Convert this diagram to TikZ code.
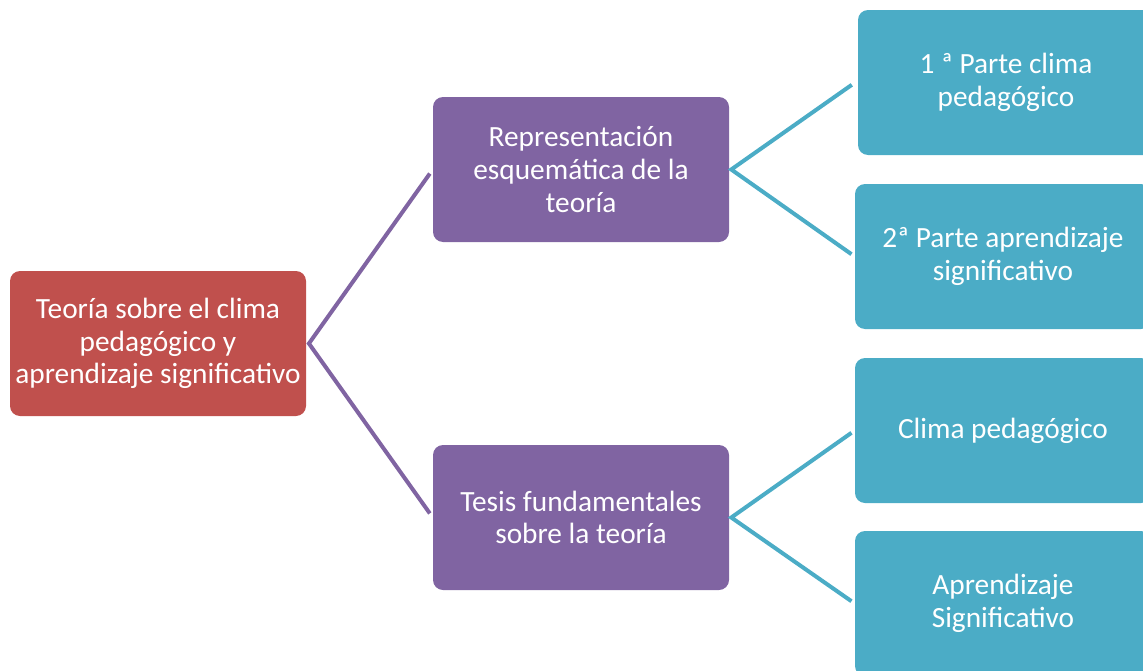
\documentclass[tikz,border=0pt]{standalone}
\usepackage{fontspec}
\setmainfont{Carlito}
\definecolor{cred}{HTML}{C0504D}
\definecolor{cpurple}{HTML}{8064A2}
\definecolor{cteal}{HTML}{4BACC6}
\begin{document}
\begin{tikzpicture}[x=0.75pt,y=-0.75pt,
  box/.style={rounded corners=7.5pt, minimum width=222pt, minimum height=108.75pt,
    inner sep=0pt, align=center, text=white,
    font=\fontsize{22}{24.5}\selectfont},
  redbox/.style={box, fill=cred},
  purplebox/.style={box, fill=cpurple},
  tealbox/.style={box, fill=cteal},
  plink/.style={draw=cpurple, line width=3pt, line join=miter, shorten <=3.75pt, shorten >=3.75pt},
  tlink/.style={draw=cteal, line width=3pt, line join=miter, shorten <=3pt, shorten >=3pt}]
\useasboundingbox (0,0) rectangle (1143,671);
\clip (0,0) rectangle (1143,671);
\node[redbox] (r) at (158,343.5) {Teoría sobre el clima\\pedagógico y\\aprendizaje significativo};
\node[purplebox] (p1) at (581,169.5) {Representación\\esquemática de la\\teoría};
\node[purplebox] (p2) at (581,517.5) {Tesis fundamentales\\sobre la teoría};
\node[tealbox] (t1) at (1006,82.5) {1 ª Parte clima\\pedagógico};
\node[tealbox] (t2) at (1003,256.5) {2ª Parte aprendizaje\\significativo};
\node[tealbox] (t3) at (1003,430.5) {Clima pedagógico};
\node[tealbox] (t4) at (1003,603.5) {Aprendizaje\\Significativo};
\draw[plink] (p1.west) -- ([xshift=2pt]r.east) -- (p2.west);
\draw[tlink] ([xshift=-2pt]t1.west) -- ([xshift=1.5pt]p1.east) -- (t2.west);
\draw[tlink] (t3.west) -- ([xshift=1.5pt]p2.east) -- (t4.west);
\end{tikzpicture}
\end{document}
